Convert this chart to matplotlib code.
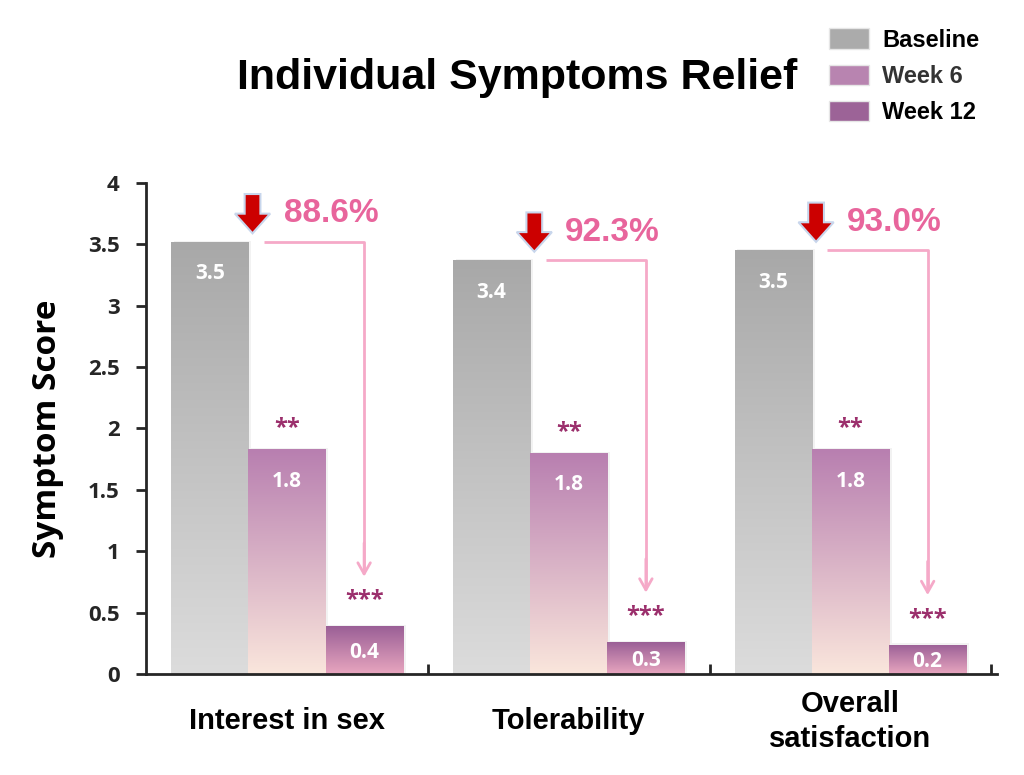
import numpy as np
import matplotlib
matplotlib.use("Agg")
import matplotlib.pyplot as plt
from matplotlib.colors import LinearSegmentedColormap
from matplotlib.patches import FancyArrow, Patch

categories = ["Interest in sex", "Tolerability", "Overall\nsatisfaction"]
series_names = ["Baseline", "Week 6", "Week 12"]
baseline = [3.52, 3.37, 3.45]
week6 = [1.83, 1.80, 1.83]
week12 = [0.39, 0.26, 0.24]
value_labels = [["3.5", "3.4", "3.5"], ["1.8", "1.8", "1.8"], ["0.4", "0.3", "0.2"]]
stars = [None, "**", "***"]
reductions = ["88.6%", "92.3%", "93.0%"]

# gradient (top, bottom) per series, plus legend colour
grad_colors = [("#A8A8A8", "#DCDCDC"), ("#B87FB0", "#FAE6DC"), ("#9A5F96", "#E8A6BF")]
legend_colors = ["#ABABAB", "#B884B0", "#9C6397"]

fig = plt.figure(figsize=(10.24, 7.75), dpi=100)
ax = fig.add_axes([0.1426, 0.1303, 0.8310, 0.6336])

x = np.arange(len(categories))
width = 0.274
series = [baseline, week6, week12]
all_bars = []
for i, vals in enumerate(series):
    offs = x + (i - 1) * width
    # soft shadow
    ax.bar(offs + 0.01, np.array(vals) + 0.01, width, color="black", alpha=0.05, zorder=1)
    bars = ax.bar(offs, vals, width, facecolor="none", edgecolor="none", zorder=3)
    cmap = LinearSegmentedColormap.from_list(f"g{i}", [grad_colors[i][1], grad_colors[i][0]])
    grad = np.linspace(0, 1, 256).reshape(-1, 1)
    for b in bars:
        im = ax.imshow(grad, cmap=cmap, origin="lower", aspect="auto", zorder=2,
                       extent=(b.get_x(), b.get_x() + b.get_width(), 0, b.get_height()))
        im.set_clip_path(b)
    all_bars.append(bars)

# value labels and stars
for i, bars in enumerate(all_bars):
    for j, b in enumerate(bars):
        cx = b.get_x() + b.get_width() / 2
        h = b.get_height()
        ly = h - 0.26 if h > 1 else h / 2 - 0.02
        ax.text(cx, ly, value_labels[i][j], ha="center", va="center", color="white",
                fontsize=15, fontweight="bold", family="Open Sans", zorder=5)
        if stars[i]:
            sy = h + 0.17 if i == 1 else h + 0.21
            ax.text(cx, sy, stars[i], ha="center", va="center", color="#9B2F6C",
                    fontsize=17, fontweight="bold", family="Open Sans", zorder=5)

# red arrows, percentages and connectors
for j in range(len(categories)):
    bb = all_bars[0][j]
    b12 = all_bars[2][j]
    edge = bb.get_x() + bb.get_width()
    ax_c = edge + 0.015
    top = bb.get_height()
    a_bot = top + 0.07
    a_top = a_bot + 0.32
    ax.add_patch(FancyArrow(ax_c, a_top, 0, -(a_top - a_bot), width=0.056, head_width=0.125,
                            head_length=0.16, length_includes_head=True,
                            facecolor="#CC0000", edgecolor="#C8D6EC", linewidth=1.5, zorder=6))
    ax.text(ax_c + 0.11, (a_top + a_bot) / 2, reductions[j], ha="left", va="center",
            color="#E8659C", fontsize=24, fontweight="bold", family="Liberation Sans", zorder=6)
    c12 = b12.get_x() + b12.get_width() / 2
    end_y = b12.get_height() + 0.40
    ax.plot([ax_c + 0.04, c12, c12], [top, top, end_y + 0.05], color="#F5A9C8", lw=2,
            solid_capstyle="butt", zorder=4)
    ax.annotate("", xy=(c12, end_y - 0.02), xytext=(c12, end_y + 0.3),
                arrowprops=dict(arrowstyle="->,head_length=0.8,head_width=0.45",
                                color="#F5A9C8", lw=2), zorder=4)

ax.set_xlim(-0.5, 2.52)
ax.set_ylim(0, 4)
ax.set_yticks(np.arange(0, 4.01, 0.5))
ax.set_yticklabels(["0", "0.5", "1", "1.5", "2", "2.5", "3", "3.5", "4"],
                   family="Open Sans", fontsize=16, fontweight="bold", color="#262626")
ax.tick_params(axis="y", direction="out", length=7, width=2, color="#262626", pad=12)
ax.set_xticks([0.5, 1.5, 2.5])
ax.set_xticklabels([])
ax.tick_params(axis="x", which="major", direction="in", length=7, width=2, color="#262626")
ax.set_xticks(x, minor=True)
ax.set_xticklabels(categories, minor=True, fontsize=21, fontweight="bold",
                   family="Liberation Sans", linespacing=1.3, va="center")
ax.tick_params(axis="x", which="minor", length=0, pad=34)
for s in ["top", "right"]:
    ax.spines[s].set_visible(False)
for s in ["left", "bottom"]:
    ax.spines[s].set_linewidth(2)
    ax.spines[s].set_color("#262626")
ax.set_ylabel("Symptom Score", fontsize=24, fontweight="bold", family="Open Sans", labelpad=17)

fig.text(0.505, 0.900, "Individual Symptoms Relief", ha="center", va="center",
         fontsize=31, fontweight="bold", family="Liberation Sans")

handles = [Patch(facecolor=c, edgecolor="#E6E6E6") for c in legend_colors]
leg = fig.legend(handles, series_names, loc="upper left", bbox_to_anchor=(0.789, 0.991),
                 frameon=False, handlelength=1.7, handleheight=0.95, labelspacing=0.55,
                 handletextpad=0.55, prop=dict(family="Liberation Sans", weight="bold", size=17))
leg.get_texts()[1].set_color("#333333")

fig.savefig("out.png", dpi=100)
